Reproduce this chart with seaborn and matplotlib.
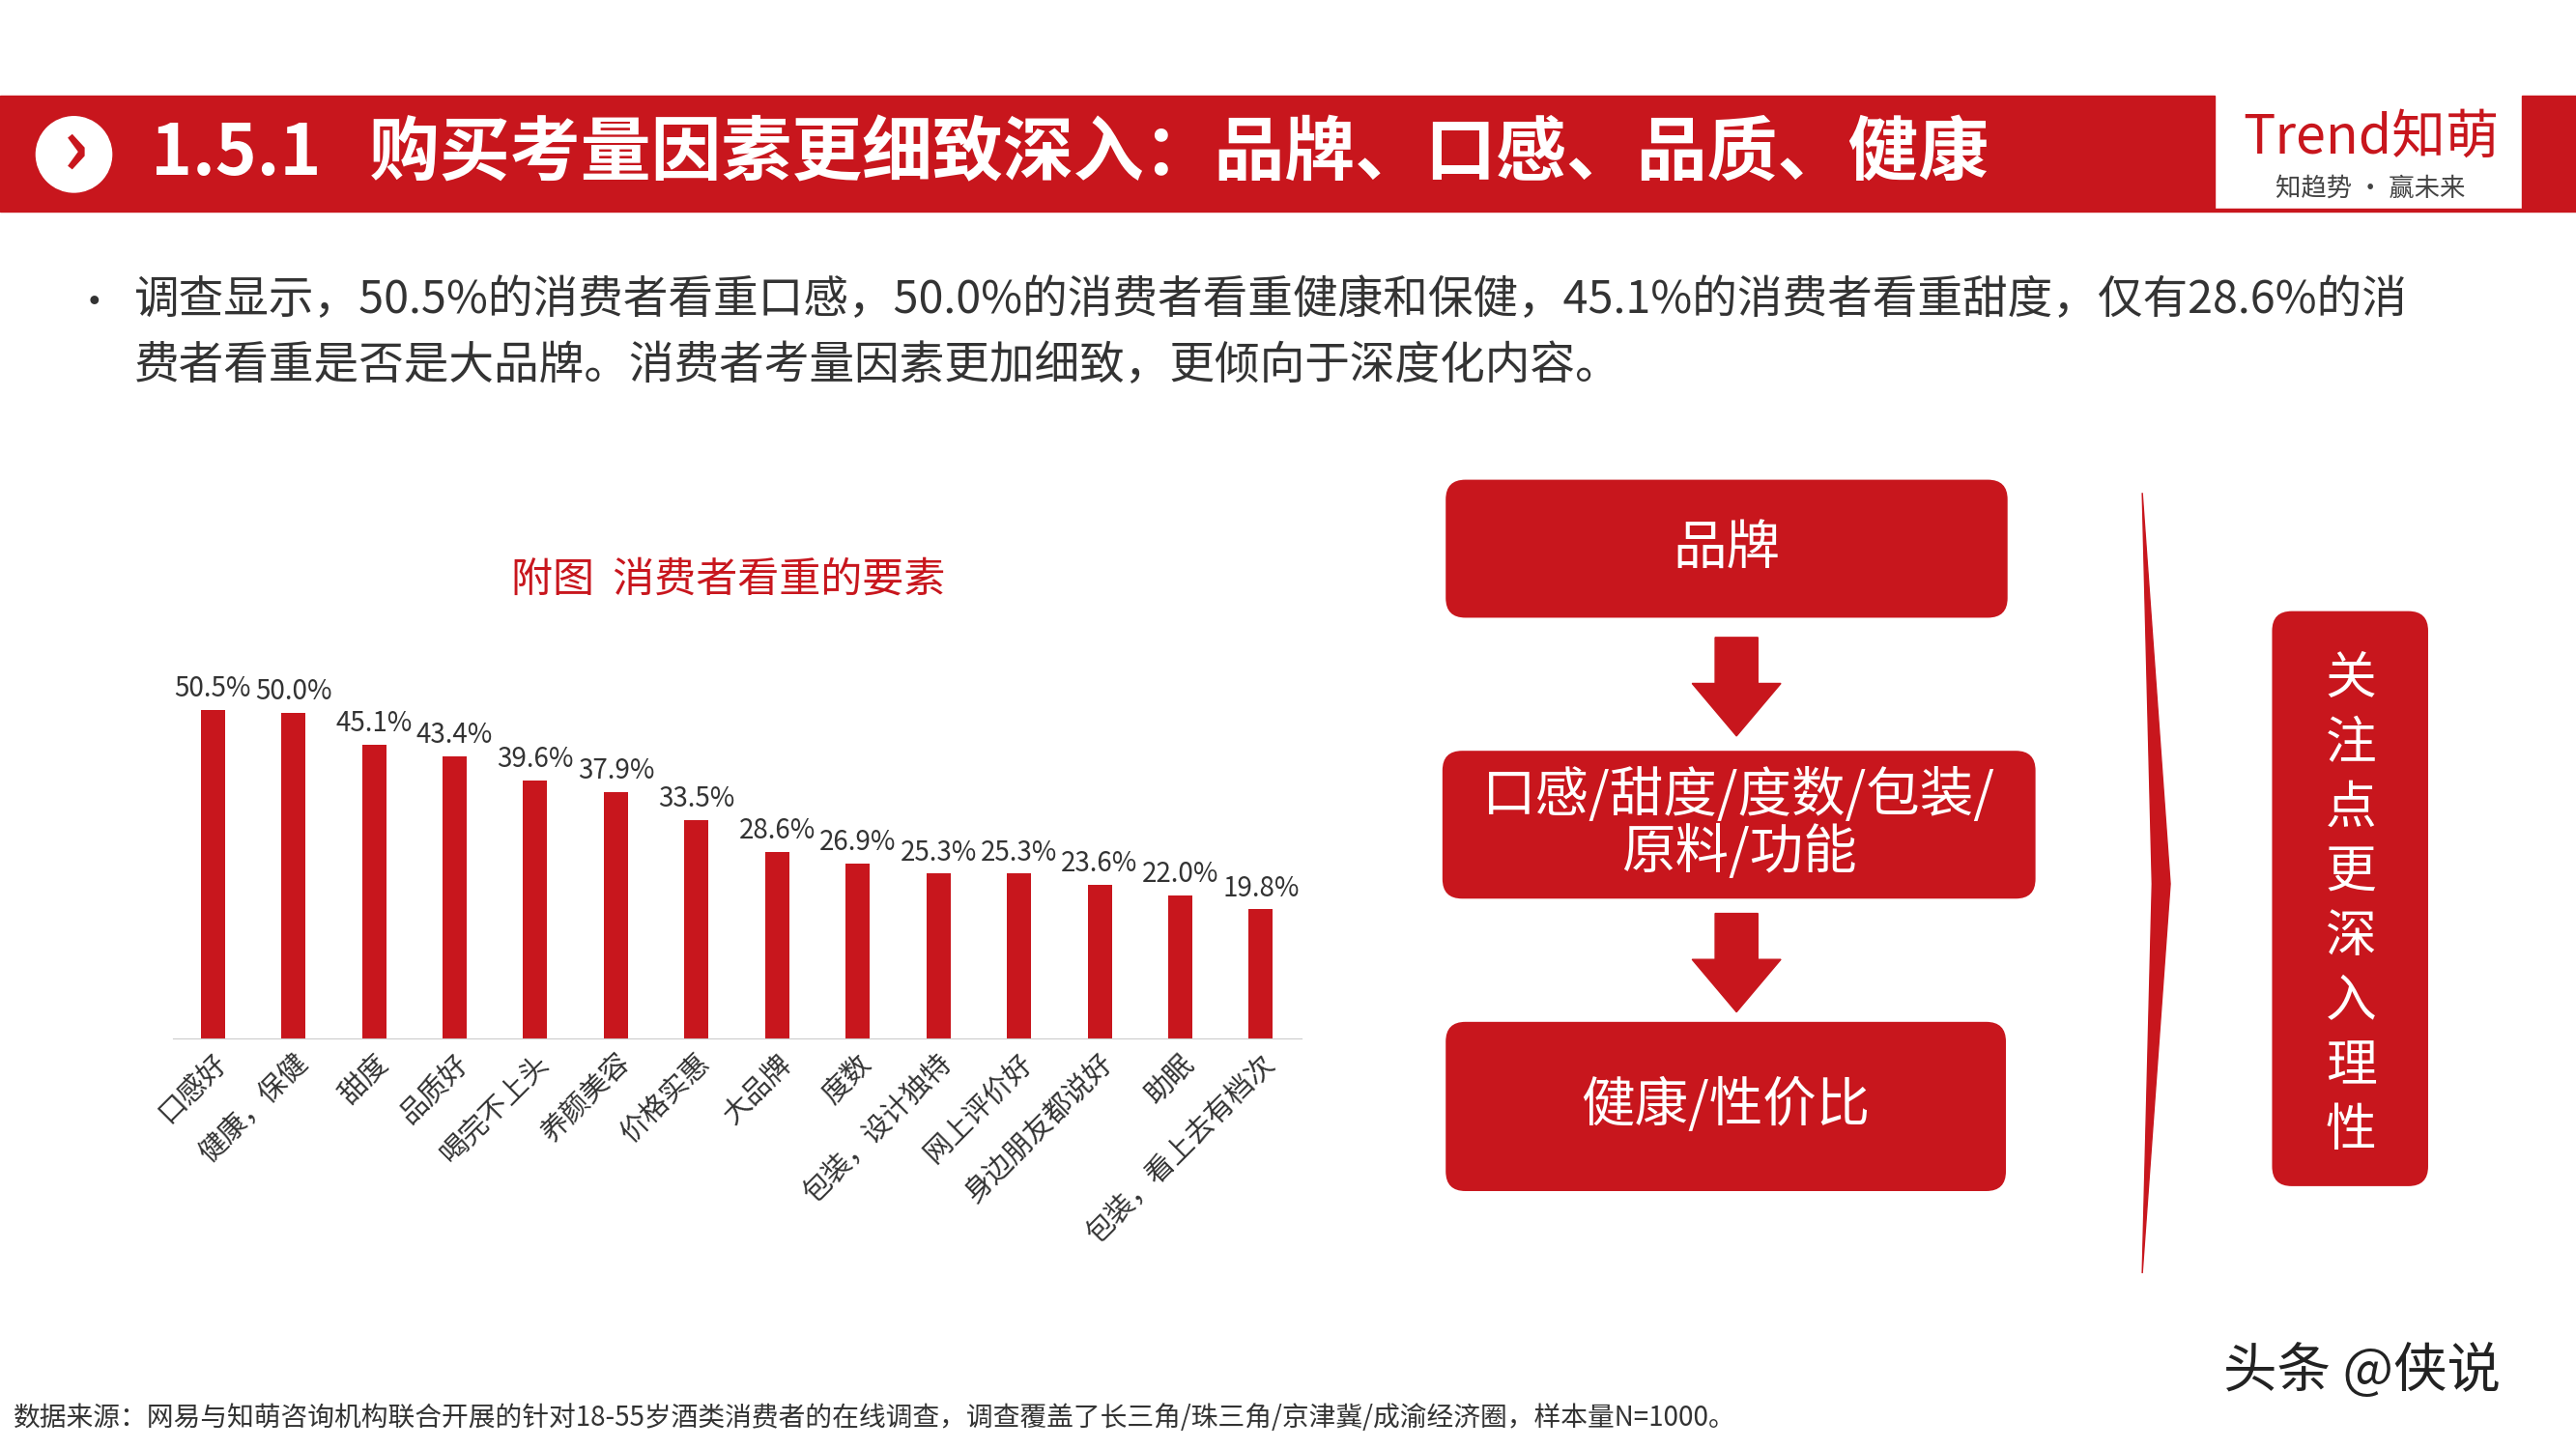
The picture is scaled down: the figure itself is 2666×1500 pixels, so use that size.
import matplotlib
matplotlib.use("Agg")
import matplotlib.pyplot as plt
import seaborn as sns
import pandas as pd
from matplotlib.patches import FancyBboxPatch, Rectangle, Polygon, Circle

plt.rcParams["font.family"] = ["Noto Sans CJK SC"]

categories = ["口感好", "健康，保健", "甜度", "品质好", "喝完不上头", "养颜美容", "价格实惠", "大品牌",
              "度数", "包装，设计独特", "网上评价好", "身边朋友都说好", "助眠", "包装，看上去有档次"]
values = [50.5, 50.0, 45.1, 43.4, 39.6, 37.9, 33.5, 28.6, 26.9, 25.3, 25.3, 23.6, 22.0, 19.8]

RED = "#C8161D"
W, H = 1568, 882
fig = plt.figure(figsize=(26.66, 15), dpi=100)

def fx(x): return x / W
def fy(y): return 1 - y / H

ax0 = fig.add_axes([0, 0, 1, 1])
ax0.set_xlim(0, W); ax0.set_ylim(H, 0); ax0.axis("off")

# header
ax0.add_patch(Rectangle((0, 58), 1348, 70, color=RED))
ax0.add_patch(Rectangle((1535, 58), 33, 70, color=RED))
ax0.add_patch(Rectangle((0, 127), 1568, 2, color=RED))
ax0.add_patch(Circle((45, 94), 23, color="white", zorder=3))
ax0.text(46, 92, "›", color=RED, fontsize=60, ha="center", va="center", fontweight="bold", zorder=4)
ax0.text(92, 94, "1.5.1   购买考量因素更细致深入：品牌、口感、品质、健康", color="white",
         fontsize=52.5, fontweight="bold", va="center")
ax0.text(1443, 84, "Trend知萌", color=RED, fontsize=40, ha="center", va="center")
ax0.text(1443, 115, "知趋势 · 赢未来", color="#444444", fontsize=19, ha="center", va="center")

ax0.text(45, 185, "•", fontsize=30, va="center", color="#333333")
ax0.text(82, 183, "调查显示，50.5%的消费者看重口感，50.0%的消费者看重健康和保健，45.1%的消费者看重甜度，仅有28.6%的消",
         fontsize=33.6, va="center", color="#333333")
ax0.text(82, 223, "费者看重是否是大品牌。消费者考量因素更加细致，更倾向于深度化内容。",
         fontsize=33.6, va="center", color="#333333")

ax0.text(443, 353, "附图  消费者看重的要素", color=RED, fontsize=31, ha="center", va="center")

# bar chart
ax = fig.add_axes([fx(105), fy(632), fx(792 - 105), (632 - 400) / H])
df = pd.DataFrame({"cat": categories, "val": values})
sns.barplot(data=df, x="cat", y="val", color=RED, saturation=1, width=0.3, ax=ax)
ax.set_ylim(0, (632 - 400) / (200 / 50.5))
for i, v in enumerate(values):
    ax.text(i, v + 1.0, f"{v:.1f}%", ha="center", va="bottom", fontsize=20, color="#333333")
ax.set_xlabel(""); ax.set_ylabel(""); ax.set_yticks([])
for s in ["top", "right", "left"]:
    ax.spines[s].set_visible(False)
ax.spines["bottom"].set_color("#cccccc")
ax.tick_params(axis="x", length=0, pad=8)
ax.set_xticks(range(len(categories)))
ax.set_xticklabels(categories, rotation=45, ha="right", rotation_mode="anchor", fontsize=21, color="#333333")

# right diagram
def box(x0, y0, x1, y1, text, fs):
    ax0.add_patch(FancyBboxPatch((x0, y0), x1 - x0, y1 - y0, boxstyle="round,pad=0,rounding_size=12",
                                 color=RED, ec="none"))
    ax0.text((x0 + x1) / 2, (y0 + y1) / 2, text, color="white", fontsize=fs, ha="center", va="center",
             linespacing=1.05)

box(880, 292, 1222, 376, "品牌", 40)
box(878, 457, 1239, 547, "口感/甜度/度数/包装/\n原料/功能", 40)
box(880, 622, 1221, 725, "健康/性价比", 40)
for y0 in (388, 556):
    ax0.add_patch(Polygon([(1044, y0), (1070, y0), (1070, y0 + 28), (1084, y0 + 28), (1057, y0 + 60),
                           (1030, y0 + 28), (1044, y0 + 28)], color=RED))
ax0.add_patch(Polygon([(1304, 300), (1321, 538), (1304, 775), (1310, 538)], color=RED))
box(1383, 372, 1478, 722, "", 10)
for k, ch in enumerate("关注点更深入理性"):
    ax0.text(1431, 413 + k * 39.3, ch, color="white", fontsize=38, ha="center", va="center")

ax0.text(1438, 835, "头条 @侠说", fontsize=40, ha="center", va="center", color="#222222")
ax0.text(8, 863, "数据来源：网易与知萌咨询机构联合开展的针对18-55岁酒类消费者的在线调查，调查覆盖了长三角/珠三角/京津冀/成渝经济圈，样本量N=1000。",
         fontsize=20, va="center", color="#333333")

fig.savefig("out.png", dpi=100, facecolor="white")
